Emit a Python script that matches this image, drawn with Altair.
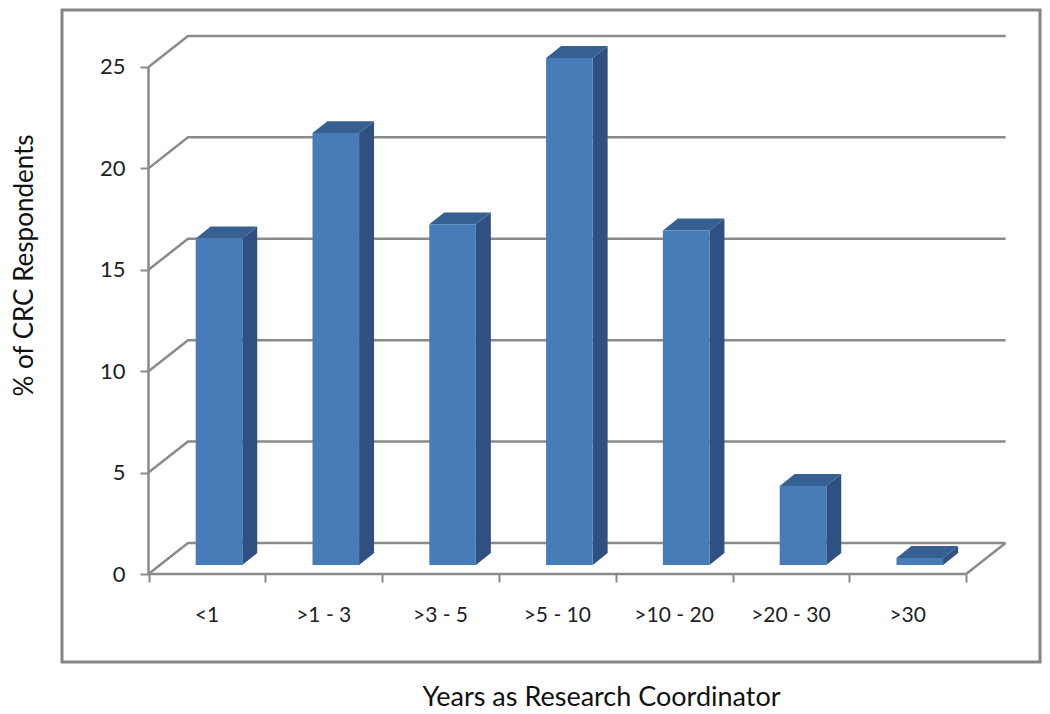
import altair as alt
import pandas as pd

categories = ["<1", ">1 - 3", ">3 - 5", ">5 - 10", ">10 - 20", ">20 - 30", ">30"]
values = [16.1, 21.3, 16.8, 25.0, 16.5, 3.9, 0.35]
y_ticks = [0, 5, 10, 15, 20, 25]
x_ticks = list(range(8))

# Pseudo-3D geometry, in data units
WALL_DX, WALL_DY = 0.338, 1.53     # depth of the chart floor / walls
BAR_DX, BAR_DY = 0.128, 0.59       # depth of each bar
BAR_LEFT, BAR_W = 0.404, 0.399     # bar front face inside a category
BASE = 0.44                        # bars stand on the floor, in front of the back wall

XDOM = [-0.7406, 7.6327]
YDOM = [-4.339, 27.81]
GRAY = "#8a8a8a"
FONT = "Lato"

x_scale = alt.Scale(domain=XDOM, nice=False, zero=False)
y_scale = alt.Scale(domain=YDOM, nice=False, zero=False)

# wall lines
walls = []
for v in y_ticks:
    walls += [
        {"k": f"g{v}", "o": 0, "x": 0, "y": v},
        {"k": f"g{v}", "o": 1, "x": WALL_DX, "y": v + WALL_DY},
        {"k": f"g{v}", "o": 2, "x": 7 + WALL_DX, "y": v + WALL_DY},
    ]
walls += [
    {"k": "floor", "o": 0, "x": 7, "y": 0},
    {"k": "floor", "o": 1, "x": 7 + WALL_DX, "y": WALL_DY},
    {"k": "xaxis", "o": 0, "x": 0, "y": 0},
    {"k": "xaxis", "o": 1, "x": 7, "y": 0},
    {"k": "yaxis", "o": 0, "x": 0, "y": 0},
    {"k": "yaxis", "o": 1, "x": 0, "y": 25},
]

front, side, top = [], [], []
for i, (c, v) in enumerate(zip(categories, values)):
    l, r = i + BAR_LEFT, i + BAR_LEFT + BAR_W
    t = v + BASE
    front.append({"c": c, "l": l, "r": r, "b": BASE, "t": t})
    side += [
        {"c": c, "x": r, "y": BASE, "y2": t},
        {"c": c, "x": r + BAR_DX, "y": BASE + BAR_DY, "y2": t + BAR_DY},
    ]
    top += [
        {"c": c, "y": t, "x": l, "x2": r},
        {"c": c, "y": t + BAR_DY, "x": l + BAR_DX, "x2": r + BAR_DX},
    ]

labels = pd.DataFrame({"c": categories, "x": [i + 0.5 for i in range(7)], "y": [-2.07] * 7})

x_axis = alt.Axis(
    values=x_ticks, labels=False, grid=False, domain=False, offset=-88,
    tickSize=8, tickWidth=2, tickColor=GRAY,
    title="Years as Research Coordinator", titleFont=FONT, titleFontSize=27,
    titleFontWeight="normal", titleColor="#111111", titleX=539, titleY=110,
)
y_axis = alt.Axis(
    values=y_ticks, grid=False, domain=False, offset=-86.5,
    tickSize=8.5, tickWidth=2, tickColor=GRAY,
    labelFont=FONT, labelFontSize=22, labelColor="#222222", labelPadding=15,
    title="% of CRC Respondents", titleFont=FONT, titleFontSize=26,
    titleFontWeight="normal", titleColor="#111111", titleX=-111, titleY=255,
)

X = lambda f: alt.X(f, scale=x_scale, axis=x_axis)
Y = lambda f: alt.Y(f, scale=y_scale, axis=y_axis)

grid = alt.Chart(pd.DataFrame(walls)).mark_line(color=GRAY, strokeWidth=2.5).encode(
    x=X("x:Q"), y=Y("y:Q"), detail="k:N", order="o:Q",
)

side_l = alt.Chart(pd.DataFrame(side)).mark_area(color="#2f5080", interpolate="linear").encode(
    x=X("x:Q"), y=Y("y:Q"), y2="y2:Q", detail="c:N",
)

top_l = alt.Chart(pd.DataFrame(top)).mark_area(color="#365f92", orient="horizontal").encode(
    y=Y("y:Q"), x=X("x:Q"), x2="x2:Q", detail="c:N",
)

front_l = alt.Chart(pd.DataFrame(front)).mark_rect(color="#467db9").encode(
    x=X("l:Q"), x2="r:Q", y=Y("b:Q"), y2="t:Q",
)

text_l = alt.Chart(labels).mark_text(font=FONT, fontSize=21, color="#222222", baseline="middle").encode(
    x=X("x:Q"), y=Y("y:Q"), text="c:N",
)

chart = (
    alt.layer(grid, side_l, top_l, front_l, text_l)
    .properties(
        width=978, height=652,
        autosize=alt.AutoSizeParams(type="none"),
        padding={"left": 54, "top": 2, "right": 2, "bottom": 52},
        background="white",
    )
    .configure_view(stroke="#858585", strokeWidth=3)
)

chart.save("out.html", embed_options={"renderer": "svg", "actions": False})
